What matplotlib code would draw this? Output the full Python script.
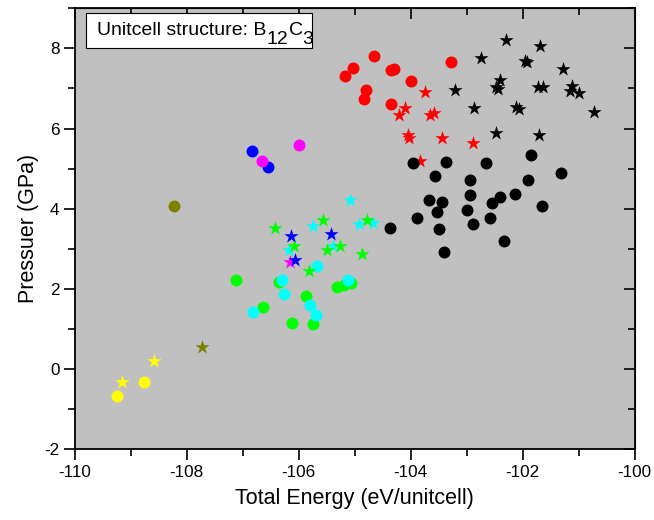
import numpy as np
import matplotlib
matplotlib.use("Agg")
import matplotlib.pyplot as plt
from matplotlib.ticker import MultipleLocator
from matplotlib.patches import Rectangle

plt.rcParams['font.family'] = ['Liberation Sans', 'DejaVu Sans']
plt.rcParams['axes.unicode_minus'] = False

# Data (total energy, pressure)
red_circle_x = [-104.65, -105.03, -105.18, -104.35, -104.29, -103.99, -104.79, -104.84, -104.35, -103.27]
red_circle_y = [7.81, 7.52, 7.32, 7.45, 7.48, 7.19, 6.97, 6.73, 6.61, 7.66]

red_star_x = [-103.74, -104.10, -104.21, -103.66, -103.58, -104.04, -104.03, -103.44, -102.89, -103.83]
red_star_y = [6.92, 6.52, 6.33, 6.35, 6.38, 5.83, 5.77, 5.77, 5.63, 5.19]

black_star_x = [-102.29, -101.68, -102.74, -101.95, -101.92, -101.28, -102.41, -102.48, -102.43, -103.20,
                -101.73, -101.64, -101.11, -101.16, -100.99, -102.87, -102.12, -102.06, -100.72, -102.47, -101.70]
black_star_y = [8.22, 8.06, 7.76, 7.69, 7.66, 7.49, 7.22, 7.04, 6.99, 6.97,
                7.04, 7.04, 7.07, 6.93, 6.88, 6.52, 6.53, 6.50, 6.41, 5.88, 5.85]

black_circle_x = [-103.96, -103.36, -102.66, -101.85, -103.56, -102.94, -101.91, -101.31, -103.67, -103.44,
                  -102.93, -102.54, -102.41, -102.13, -101.66, -103.88, -103.53, -102.99, -102.58, -104.37,
                  -103.50, -102.89, -102.33, -103.40]
black_circle_y = [5.14, 5.17, 5.13, 5.34, 4.81, 4.72, 4.72, 4.88, 4.21, 4.18,
                  4.35, 4.15, 4.30, 4.37, 4.08, 3.76, 3.93, 3.98, 3.76, 3.53,
                  3.50, 3.63, 3.19, 2.93]

blue_circle_x = [-106.83, -106.55]
blue_circle_y = [5.43, 5.05]
magenta_circle_x = [-106.00, -106.65]
magenta_circle_y = [5.58, 5.18]
olive_circle_x = [-108.23]
olive_circle_y = [4.08]
olive_star_x = [-107.73]
olive_star_y = [0.54]
yellow_star_x = [-109.15, -108.58]
yellow_star_y = [-0.33, 0.19]
yellow_circle_x = [-109.24, -108.76]
yellow_circle_y = [-0.68, -0.31]

cyan_star_x = [-105.08, -105.74, -104.92, -104.68, -106.18, -105.38]
cyan_star_y = [4.21, 3.58, 3.62, 3.64, 2.97, 3.06]
green_star_x = [-106.43, -105.57, -104.77, -106.08, -105.50, -105.26, -104.87, -105.81]
green_star_y = [3.53, 3.71, 3.71, 3.07, 2.96, 3.06, 2.88, 2.44]
blue_star_x = [-106.14, -105.43, -106.06]
blue_star_y = [3.32, 3.36, 2.72]
magenta_star_x = [-106.15]
magenta_star_y = [2.67]

green_circle_x = [-107.11, -106.35, -106.63, -105.86, -106.11, -105.74, -105.31, -105.19, -105.07]
green_circle_y = [2.22, 2.17, 1.55, 1.82, 1.15, 1.12, 2.06, 2.09, 2.15]
cyan_circle_x = [-105.68, -106.30, -106.26, -106.82, -105.79, -105.69, -105.12]
cyan_circle_y = [2.56, 2.22, 1.87, 1.42, 1.61, 1.36, 2.22]

fig = plt.figure(figsize=(6.54, 5.2), dpi=100)
ax = fig.add_axes([0.1142, 0.136, 0.856, 0.848])
ax.set_facecolor('#c0c0c0')

cs = 74   # circle size
ss = 115  # star size

# Series in drawing order: (x, y, colour, marker)
series = [
    (red_circle_x, red_circle_y, '#ff0000', 'o'),
    (red_star_x, red_star_y, '#ff0000', '*'),
    (black_star_x, black_star_y, '#000000', '*'),
    (black_circle_x, black_circle_y, '#000000', 'o'),
    (blue_circle_x, blue_circle_y, '#0000ff', 'o'),
    (magenta_circle_x, magenta_circle_y, '#ff00ff', 'o'),
    (olive_circle_x, olive_circle_y, '#808000', 'o'),
    (olive_star_x, olive_star_y, '#808000', '*'),
    (yellow_circle_x, yellow_circle_y, '#ffff00', 'o'),
    (yellow_star_x, yellow_star_y, '#ffff00', '*'),
    (green_circle_x, green_circle_y, '#00ff00', 'o'),
    (cyan_circle_x, cyan_circle_y, '#00ffff', 'o'),
    (magenta_star_x, magenta_star_y, '#ff00ff', '*'),
    (cyan_star_x, cyan_star_y, '#00ffff', '*'),
    (green_star_x, green_star_y, '#00ff00', '*'),
    (blue_star_x, blue_star_y, '#0000ff', '*'),
]
for x, y, c, m in series:
    ax.scatter(x, y, s=cs if m == 'o' else ss, c=c, marker=m, linewidths=0, zorder=3)

ax.set_xlim(-110, -100)
ax.set_ylim(-2, 9)
ax.set_xticks(np.arange(-110, -99, 2))
ax.set_yticks(np.arange(-2, 9, 2))
ax.xaxis.set_minor_locator(MultipleLocator(1))
ax.yaxis.set_minor_locator(MultipleLocator(1))
ax.tick_params(which='major', direction='out', length=8, width=1.2, labelsize=12.3, pad=3)
ax.tick_params(which='minor', direction='out', length=5, width=1.2)
for sp in ax.spines.values():
    sp.set_linewidth(1.3)

# inward ticks on top and right, no labels
top = ax.secondary_xaxis('top')
top.set_xticks(np.arange(-110, -99, 2))
top.xaxis.set_minor_locator(MultipleLocator(1))
top.tick_params(which='major', direction='in', length=8, width=1.2, labeltop=False)
top.tick_params(which='minor', direction='in', length=5, width=1.2)
right = ax.secondary_yaxis('right')
right.set_yticks(np.arange(-2, 9, 2))
right.yaxis.set_minor_locator(MultipleLocator(1))
right.tick_params(which='major', direction='in', length=8, width=1.2, labelright=False)
right.tick_params(which='minor', direction='in', length=5, width=1.2)

ax.set_xlabel('Total Energy (eV/unitcell)', fontsize=15.5, labelpad=6)
ax.set_ylabel('Pressuer (GPa)', fontsize=15.5, labelpad=4)

# label box with big, Origin-style subscripts
ax.add_patch(Rectangle((0.0202, 0.910), 0.404, 0.0793, transform=ax.transAxes,
                       facecolor='white', edgecolor='black', linewidth=0.8, zorder=4))
fs = 14
drop = 6.3
t1 = ax.text(0.0398, 0.9388, 'Unitcell structure: B', transform=ax.transAxes,
             fontsize=fs, va='baseline', ha='left', zorder=5)
t2 = ax.annotate('12', xy=(1, 0), xycoords=t1, xytext=(0.3, -drop), textcoords='offset points',
                 fontsize=fs, va='bottom', ha='left', zorder=5)
t3 = ax.annotate('C', xy=(1, 0), xycoords=t2, xytext=(0, drop), textcoords='offset points',
                 fontsize=fs, va='bottom', ha='left', zorder=5)
t4 = ax.annotate('3', xy=(1, 0), xycoords=t3, xytext=(0, -drop), textcoords='offset points',
                 fontsize=fs, va='bottom', ha='left', zorder=5)

plt.savefig('out.png', dpi=100)
